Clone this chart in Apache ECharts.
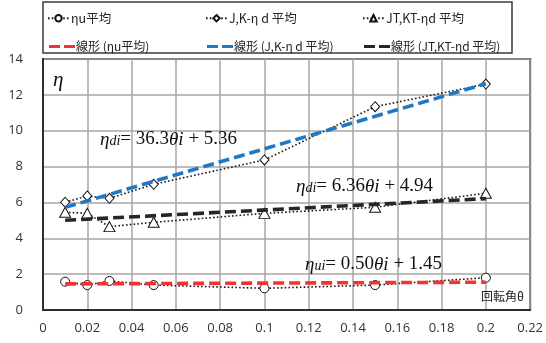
<!DOCTYPE html>
<html>
<head>
<meta charset="utf-8">
<script src="https://cdn.jsdelivr.net/npm/echarts@6/dist/echarts.min.js"></script>
<style>
  html, body { margin: 0; padding: 0; background: #fff; }
  #chart { width: 546px; height: 343px; }
</style>
</head>
<body>
<div id="chart"></div>
<script>
// Rotation angle θ at which the averages were taken
const thetaValues = [0.01, 0.02, 0.03, 0.05, 0.1, 0.15, 0.2];

// Averaged η values per group
const etaU = [1.58, 1.39, 1.62, 1.39, 1.21, 1.39, 1.80];
const etaJK = [6.01, 6.36, 6.23, 7.01, 8.37, 11.34, 12.60];
const etaJTKT = [5.45, 5.39, 4.65, 4.89, 5.39, 5.73, 6.51];

// Series names (legend text)
const seriesNames = ['ηu平均', 'J,K-η d 平均', 'JT,KT-ηd 平均'];
const trendNames = ['線形 (ηu平均)', '線形 (J,K-η d 平均)', '線形 (JT,KT-ηd 平均)'];

// Linear fits η = a·θ + b for each group (same order as above)
const fitSlope = [0.50, 36.3, 6.36];
const fitIntercept = [1.45, 5.36, 4.94];
const fitSubscript = ['ui', 'di', 'di'];

// Axis ticks
const xTicks = [0, 0.02, 0.04, 0.06, 0.08, 0.1, 0.12, 0.14, 0.16, 0.18, 0.2, 0.22];
const yTicks = [0, 2, 4, 6, 8, 10, 12, 14];

const chart = echarts.init(document.getElementById('chart'), null, { renderer: 'canvas' });

const pairs = ys => thetaValues.map((x, i) => [x, ys[i]]);
const fitLine = k => {
  const x0 = thetaValues[0], x1 = thetaValues[thetaValues.length - 1];
  return [[x0, fitSlope[k] * x0 + fitIntercept[k]], [x1, fitSlope[k] * x1 + fitIntercept[k]]];
};

const tickFont = 'Open Sans, Liberation Sans, sans-serif';
const jpFont = '"Noto Sans CJK JP", "Noto Sans", sans-serif';
const serif = '"Liberation Serif", "DejaVu Serif", serif';

const dotted = { color: '#1a1a1a', width: 1.6, type: [1.6, 2.2] };
const markerStyle = { color: '#ffffff', borderColor: '#111', borderWidth: 1 };

const symbols = ['circle', 'diamond', 'triangle'];
const symbolSizes = [9, [9, 10], [11, 10]];
const dataSets = [etaU, etaJK, etaJTKT];
const trendColors = ['#f23237', '#1f78c4', '#262626'];

const series = [];
dataSets.forEach((ys, k) => {
  series.push({
    name: seriesNames[k],
    type: 'line',
    data: pairs(ys),
    symbol: symbols[k],
    symbolSize: symbolSizes[k],
    showAllSymbol: true,
    lineStyle: dotted,
    itemStyle: markerStyle,
    z: 3,
    animation: false
  });
});
dataSets.forEach((ys, k) => {
  series.push({
    name: trendNames[k],
    type: 'line',
    data: fitLine(k),
    symbol: 'none',
    lineStyle: { color: trendColors[k], width: 3.6, type: [11, 5] },
    itemStyle: { color: trendColors[k] },
    z: 4,
    animation: false
  });
});

// Legend: two rows of three fixed columns
const colX = [47, 205, 362];
const rowY = [16, 42];
const dashIcon = 'path://M0,0H11V3H0Z M15,0H26V3H15Z';
const legends = [];
seriesNames.forEach((n, k) => legends.push({
  data: [n], left: colX[k], top: rowY[0] - 4, padding: 0,
  itemWidth: 21, itemHeight: 8, itemGap: 0,
  textStyle: { fontFamily: jpFont, fontSize: 12.5, color: '#222', padding: [0, 0, 0, -3] }
}));
trendNames.forEach((n, k) => legends.push({
  data: [{ name: n, icon: dashIcon }], left: colX[k] + 2, top: rowY[1] - 1.5, padding: 0,
  itemWidth: 26, itemHeight: 3, itemGap: 0,
  textStyle: { fontFamily: jpFont, fontSize: 12, color: '#222', padding: [0, 0, 0, -4] }
}));

// Equation labels built from the fit coefficients
const eqText = k => `{eta|η}{sub|${fitSubscript[k]}}{up|= ${fitSlope[k].toFixed(k === 1 ? 1 : 2)}}{it|θi}{up| + ${fitIntercept[k].toFixed(2)}}`;
const eqRich = {
  eta: { fontFamily: serif, fontStyle: 'italic', fontSize: 19, fill: '#111' },
  sub: { fontFamily: serif, fontStyle: 'italic', fontSize: 14, fill: '#111', padding: [4, 0, 0, 0] },
  up: { fontFamily: serif, fontSize: 19, fill: '#111' },
  it: { fontFamily: serif, fontStyle: 'italic', fontSize: 19, fill: '#111' }
};
const eqPos = [[305, 274], [100, 149], [296, 196]];

const graphics = [
  {
    type: 'rect', z: -1, silent: true,
    shape: { x: 43, y: 2, width: 469, height: 51 },
    style: { fill: '#fff', stroke: '#3a3a3a', lineWidth: 1.5 }
  },
  {
    type: 'text', left: 53, top: 70, z: 10, silent: true,
    style: { text: 'η', font: 'italic 21px ' + serif, fill: '#111' }
  },
  {
    type: 'text', right: 22, top: 290, z: 10, silent: true,
    style: { text: '回転角θ', font: '12px ' + jpFont, fill: '#222' }
  }
];
[0, 1, 2].forEach(k => graphics.push({
  type: 'text', x: eqPos[k][0], y: eqPos[k][1], z: 10, silent: true,
  style: { text: eqText(k), rich: eqRich, verticalAlign: 'bottom', textAlign: 'left' }
}));

chart.setOption({
  backgroundColor: '#ffffff',
  animation: false,
  grid: {
    left: 43, right: 14, top: 59, bottom: 33,
    show: true, borderColor: '#2e2e2e', borderWidth: 2, backgroundColor: 'transparent'
  },
  legend: legends,
  xAxis: {
    type: 'value',
    min: xTicks[0], max: xTicks[xTicks.length - 1], interval: 0.02,
    axisLine: { show: true, onZero: false, lineStyle: { color: '#2e2e2e', width: 2 } },
    axisTick: { show: false },
    splitLine: { show: true, lineStyle: { color: '#a6a6a6', width: 1.5 } },
    axisLabel: {
      margin: 12, fontFamily: tickFont, fontSize: 13, color: '#333',
      formatter: v => String(+v.toFixed(2))
    }
  },
  yAxis: {
    type: 'value',
    min: yTicks[0], max: yTicks[yTicks.length - 1], interval: 2,
    axisLine: { show: true, lineStyle: { color: '#2e2e2e', width: 2 } },
    axisTick: { show: false },
    splitLine: { show: true, lineStyle: { color: '#a6a6a6', width: 1.5 } },
    axisLabel: { margin: 20, fontFamily: tickFont, fontSize: 13, color: '#333' }
  },
  graphic: graphics,
  series: series
});
</script>
</body>
</html>
